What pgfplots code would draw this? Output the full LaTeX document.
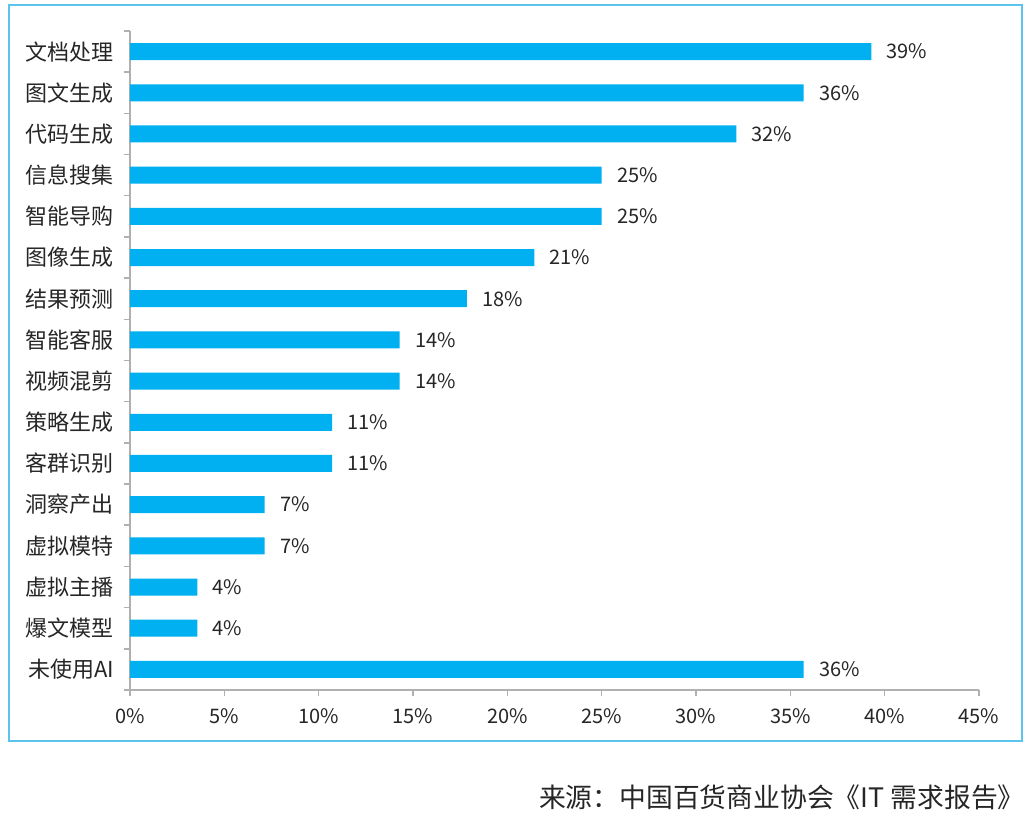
\documentclass[border=0pt]{standalone}
\usepackage{fontspec}
\setmainfont{Noto Sans CJK SC}
\usepackage{pgfplots}
\pgfplotsset{compat=1.18}
\definecolor{barc}{RGB}{0,176,240}
\definecolor{framec}{RGB}{91,196,238}
\definecolor{axc}{RGB}{176,176,176}
\definecolor{txt}{RGB}{38,38,38}
\begin{document}
\begin{tikzpicture}
\useasboundingbox (-65pt,-63.5pt) rectangle (450.5pt,345pt);
\fill[white] (-65pt,-63.5pt) rectangle (450.5pt,345pt);
\draw[framec, line width=1pt] (-60.5pt,-25.5pt) rectangle (446pt,342.5pt);
\begin{axis}[
  at={(0pt,0pt)}, anchor=south west,
  scale only axis, width=424.5pt, height=329.5pt,
  xbar, bar width=8.5pt,
  xmin=0, xmax=45, ymin=-0.5, ymax=15.5,
  axis x line*=bottom, axis y line*=left,
  axis line style={axc, line width=0.75pt},
  xtick={0,5,...,45},
  xticklabel={\pgfmathprintnumber{\tick}\%},
  /pgf/number format/assume math mode=true,
  ytick={0,...,15},
  yticklabels={未使用AI,爆文模型,虚拟主播,虚拟模特,洞察产出,客群识别,策略生成,视频混剪,智能客服,结果预测,图像生成,智能导购,信息搜集,代码生成,图文生成,文档处理},
  minor ytick={-0.5,0.5,...,15.5},
  tick align=outside,
  major tick length=3pt,
  minor tick length=3pt,
  major y tick style={draw=none},
  minor y tick style={axc, line width=0.75pt},
  major x tick style={axc, line width=0.75pt},
  ticklabel style={text=txt},
  xticklabel style={yshift=-3pt, font=\fontsize{10}{12}\selectfont},
  yticklabel style={xshift=-1.5pt, font=\fontsize{11}{13}\selectfont},
  point meta=x,
  nodes near coords={\pgfmathprintnumber[fixed,precision=0]{\pgfplotspointmeta}\%},
  every node near coord/.append style={font=\fontsize{10}{12}\selectfont, text=txt, anchor=west, inner sep=0pt, xshift=7.5pt},
]
\addplot[fill=barc, draw=none] coordinates {(35.71,0) (3.57,1) (3.57,2) (7.14,3) (7.14,4) (10.71,5) (10.71,6) (14.29,7) (14.29,8) (17.86,9) (21.43,10) (25,11) (25,12) (32.14,13) (35.71,14) (39.29,15)};
\end{axis}
\node[anchor=east, font=\fontsize{13.4}{15}\selectfont, text=txt, inner sep=0pt] at (447.5pt,-53.5pt) {来源：中国百货商业协会《IT 需求报告》};
\end{tikzpicture}
\end{document}
